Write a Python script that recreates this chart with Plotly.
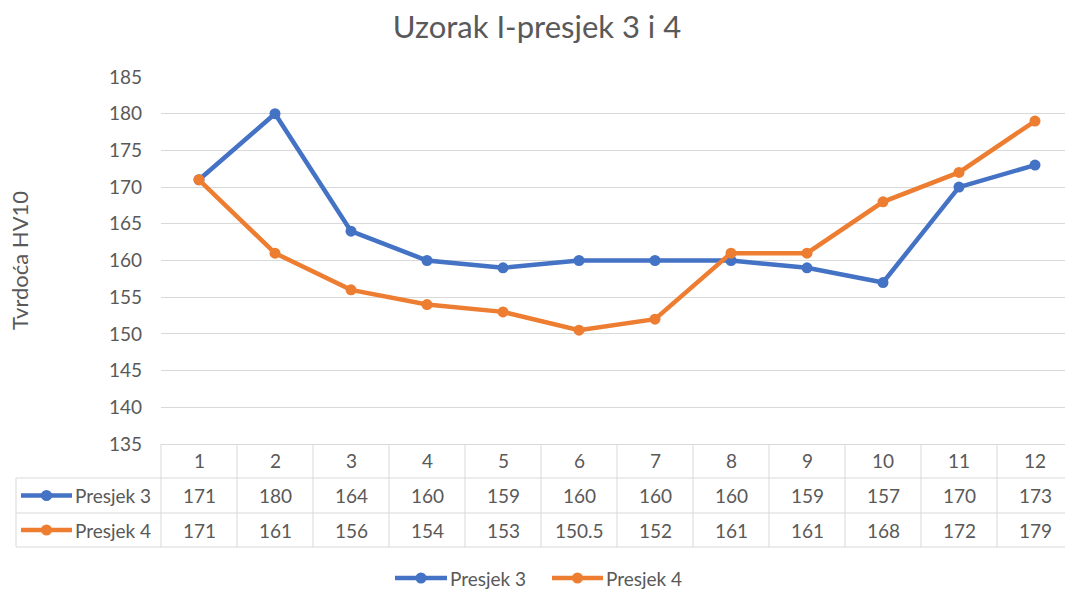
import plotly.graph_objects as go

# Measurement points along the sample and hardness readings (HV10)
categories = list(range(1, 13))
presjek_3 = [171, 180, 164, 160, 159, 160, 160, 160, 159, 157, 170, 173]
presjek_4 = [171, 161, 156, 154, 153, 150.5, 152, 161, 161, 168, 172, 179]
series_names = ["Presjek 3", "Presjek 4"]
series_colors = ["#4472C4", "#ED7D31"]
y_ticks = list(range(135, 190, 5))

title_text = "Uzorak I-presjek 3 i 4"
y_title = "Tvrdoća HV10"

# Page geometry
W, H = 1065, 590
L, R, T, B = 161, 0, 77, 146
plot_w = W - L - R
plot_h = H - T - B
col_w = 76  # pixel width of one category column

TEXT = "#595959"
GRID = "#D9D9D9"
FONT = "Lato"
TXT_SIZE = 19


def px_x(px):
    return (px - L) / plot_w


def px_y(py):
    return (H - B - py) / plot_h


fig = go.Figure()
for name, vals, color in zip(series_names, [presjek_3, presjek_4], series_colors):
    fig.add_trace(go.Scatter(
        x=categories, y=vals, name=name, mode="lines+markers",
        line=dict(color=color, width=4.5),
        marker=dict(color=color, size=11),
        cliponaxis=False, showlegend=False,
    ))

# Data table below the plot
row_lines = [478, 513, 547]
header_top = H - B
shapes = []
for py in row_lines:
    shapes.append(dict(type="line", xref="paper", yref="paper",
                       x0=px_x(16), x1=1, y0=px_y(py), y1=px_y(py),
                       line=dict(color=GRID, width=1)))
# left border of the value grid
shapes.append(dict(type="line", xref="paper", yref="paper",
                   x0=0, x1=0, y0=px_y(header_top), y1=px_y(547),
                   line=dict(color=GRID, width=1)))
# left border of the series-name column
shapes.append(dict(type="line", xref="paper", yref="paper",
                   x0=px_x(16), x1=px_x(16), y0=px_y(478), y1=px_y(547),
                   line=dict(color=GRID, width=1)))
# column separators
for c in categories:
    shapes.append(dict(type="line", xref="x", yref="paper",
                       x0=c + 0.5, x1=c + 0.5, y0=px_y(header_top), y1=px_y(547),
                       line=dict(color=GRID, width=1)))

annotations = []
header_y = px_y(461)
row_ys = [px_y(495.5), px_y(530)]
for c in categories:
    annotations.append(dict(xref="x", yref="paper", x=c, y=header_y, text=str(c),
                            showarrow=False, font=dict(family=FONT, size=TXT_SIZE, color=TEXT),
                            xanchor="center", yanchor="middle"))
for vals, ry in zip([presjek_3, presjek_4], row_ys):
    for c, v in zip(categories, vals):
        annotations.append(dict(xref="x", yref="paper", x=c, y=ry, text=f"{v:g}",
                                showarrow=False, font=dict(family=FONT, size=TXT_SIZE, color=TEXT),
                                xanchor="center", yanchor="middle"))


def series_key(x_start, x_end, y, color, name):
    """Line-with-dot key followed by the series name."""
    mid = (x_start + x_end) / 2
    shapes.append(dict(type="line", xref="paper", yref="paper",
                       x0=px_x(x_start), x1=px_x(x_end), y0=y, y1=y,
                       line=dict(color=color, width=4.5)))
    shapes.append(dict(type="circle", xref="paper", yref="paper",
                       x0=px_x(mid - 5.5), x1=px_x(mid + 5.5),
                       y0=y - 5.5 / plot_h, y1=y + 5.5 / plot_h,
                       fillcolor=color, line=dict(color=color, width=0)))
    annotations.append(dict(xref="paper", yref="paper", x=px_x(x_end + 2), y=y, text=name,
                            showarrow=False, font=dict(family=FONT, size=TXT_SIZE, color=TEXT),
                            xanchor="left", yanchor="middle", xshift=-1))


# Series keys inside the table
for name, color, ry in zip(series_names, series_colors, row_ys):
    series_key(21, 72, ry, color, name)

# Legend below the table
legend_y = px_y(578)
for name, color, (xs, xe) in zip(series_names, series_colors, [(395, 447), (552, 603)]):
    series_key(xs, xe, legend_y, color, name)

fig.update_layout(
    width=W, height=H,
    margin=dict(l=L, r=R, t=T, b=B, autoexpand=False),
    paper_bgcolor="white", plot_bgcolor="white",
    font=dict(family=FONT, size=TXT_SIZE, color=TEXT),
    showlegend=False,
    title=dict(text=title_text, x=537 / W, xanchor="center", xref="container",
               y=1 - 27 / H, yanchor="middle", yref="container",
               font=dict(family=FONT, size=31, color=TEXT)),
    xaxis=dict(range=[0.5, 0.5 + plot_w / col_w], showticklabels=False, ticks="",
               showgrid=False, zeroline=False, showline=True, linecolor=GRID, linewidth=1),
    yaxis=dict(range=[135, 185], tickvals=y_ticks, ticks="", showgrid=True,
               gridcolor=GRID, gridwidth=1, zeroline=False, showline=False,
               ticklabelstandoff=18, automargin=False,
               tickfont=dict(family=FONT, size=TXT_SIZE, color=TEXT),
               title=dict(text=y_title, standoff=74,
                          font=dict(family=FONT, size=22, color=TEXT))),
    shapes=shapes,
    annotations=annotations,
)

fig.write_html("out.html")
